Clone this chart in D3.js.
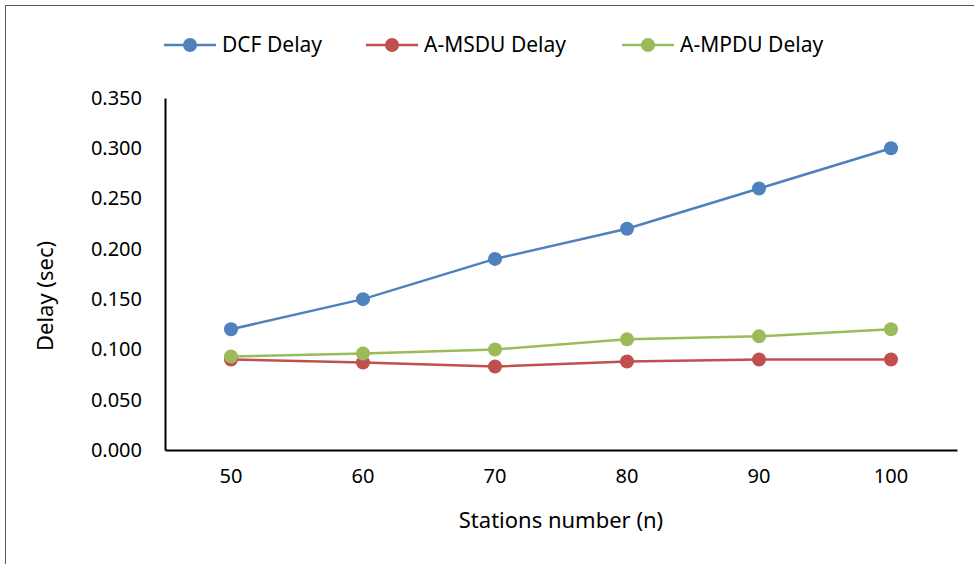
<!DOCTYPE html>
<html><head><meta charset="utf-8">
<script src="https://cdn.jsdelivr.net/npm/d3@7"></script>
<style>body{margin:0;background:#fff;} text{font-family:"Noto Sans","Open Sans",sans-serif;fill:#000;}</style>
</head><body>
<svg id="c" width="974" height="564"></svg>
<script>
const categories = [50, 60, 70, 80, 90, 100];
const dcfDelay = [0.120, 0.150, 0.190, 0.220, 0.260, 0.300];
const amsduDelay = [0.090, 0.087, 0.083, 0.088, 0.090, 0.090];
const ampduDelay = [0.093, 0.096, 0.100, 0.110, 0.113, 0.120];
const yTicks = [0, 0.05, 0.1, 0.15, 0.2, 0.25, 0.3, 0.35];
const seriesNames = ["DCF Delay", "A-MSDU Delay", "A-MPDU Delay"];
const colors = ["#4F81BD", "#C0504D", "#9BBB59"];

(function () {
const series = [dcfDelay, amsduDelay, ampduDelay].map((v, i) => ({name: seriesNames[i], values: v, color: colors[i]}));

const svg = d3.select("#c");
svg.append("rect").attr("x", 5.5).attr("y", 5.5).attr("width", 975).attr("height", 570)
  .attr("fill", "none").attr("stroke", "#595959").attr("stroke-width", 1);

const pl = 165, pr = 957, pt = 98, pb = 450;
const x = d3.scaleBand().domain(categories).range([pl, pr]);
const y = d3.scaleLinear().domain([0, 0.35]).range([pb, pt]);

const yAxis = svg.append("g").attr("transform", `translate(${pl},0)`)
  .call(d3.axisLeft(y).tickValues(yTicks).tickFormat(d3.format(".3f")).tickSize(0).tickPadding(23));
yAxis.select(".domain").attr("stroke", "#000").attr("stroke-width", 2);
yAxis.selectAll("text").style("font-size", "20px").attr("fill", "#000");

const xAxis = svg.append("g").attr("transform", `translate(0,${pb})`)
  .call(d3.axisBottom(x).tickSize(0).tickPadding(19));
xAxis.select(".domain").attr("stroke", "#000").attr("stroke-width", 2);
xAxis.selectAll("text").style("font-size", "20px").attr("fill", "#000");

const line = d3.line().x((d, i) => x(categories[i]) + x.bandwidth() / 2).y(d => y(d));
series.forEach(s => {
  svg.append("path").datum(s.values).attr("d", line).attr("fill", "none")
    .attr("stroke", s.color).attr("stroke-width", 2.5);
});
series.forEach(s => {
  svg.selectAll(null).data(s.values).enter().append("circle")
    .attr("cx", (d, i) => x(categories[i]) + x.bandwidth() / 2)
    .attr("cy", d => y(d)).attr("r", 7).attr("fill", s.color);
});

svg.append("text").attr("x", 561).attr("y", 528).attr("text-anchor", "middle")
  .style("font-size", "22px").text("Stations number (n)");
svg.append("text").attr("transform", "translate(53,296) rotate(-90)").attr("text-anchor", "middle")
  .style("font-size", "22px").text("Delay (sec)");

const legX = [164, 366, 622];
series.forEach((s, i) => {
  const g = svg.append("g").attr("transform", `translate(${legX[i]},45)`);
  g.append("line").attr("x1", 0).attr("x2", 52).attr("y1", 0).attr("y2", 0)
    .attr("stroke", s.color).attr("stroke-width", 2.5);
  g.append("circle").attr("cx", 26).attr("cy", 0).attr("r", 7).attr("fill", s.color);
  g.append("text").attr("x", 58).attr("y", 7).style("font-size", "21px").text(s.name);
});
})();
</script>
</body></html>
